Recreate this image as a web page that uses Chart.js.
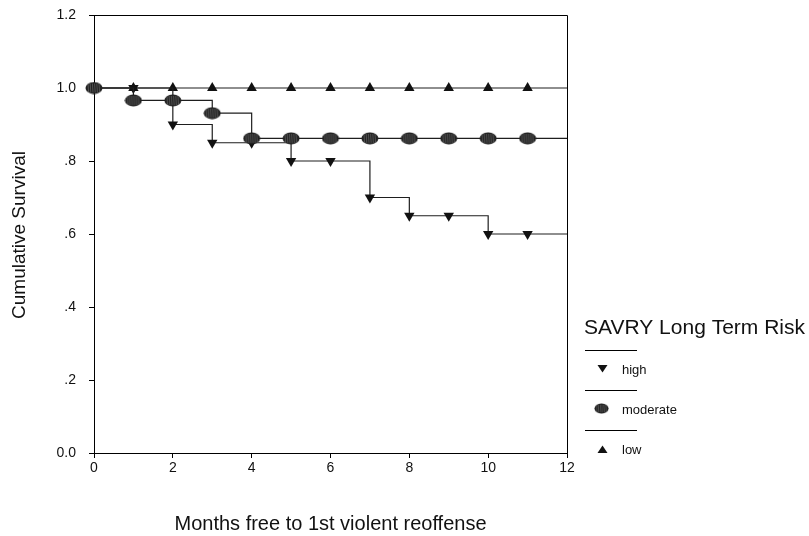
<!DOCTYPE html>
<html>
<head>
<meta charset="utf-8">
<script src="https://cdn.jsdelivr.net/npm/chart.js@4/dist/chart.umd.min.js"></script>
<style>
  html, body { margin: 0; padding: 0; background: #fff; }
  #wrap { width: 809px; height: 536px; }
</style>
</head>
<body>
<div id="wrap"><canvas id="chart" width="809" height="536"></canvas></div>
<script>
// data
const months = [0, 1, 2, 3, 4, 5, 6, 7, 8, 9, 10, 11, 12];
const highRisk = [1.0, 1.0, 0.9, 0.85, 0.85, 0.8, 0.8, 0.7, 0.65, 0.65, 0.6, 0.6, 0.6];
const moderateRisk = [1.0, 0.966, 0.966, 0.931, 0.862, 0.862, 0.862, 0.862, 0.862, 0.862, 0.862, 0.862, 0.862];
const lowRisk = [1.0, 1.0, 1.0, 1.0, 1.0, 1.0, 1.0, 1.0, 1.0, 1.0, 1.0, 1.0, 1.0];
const seriesNames = ["high", "moderate", "low"];
const yTickLabels = ["0.0", ".2", ".4", ".6", ".8", "1.0", "1.2"];
const legendTitle = "SAVRY Long Term Risk";
const xTitle = "Months free to 1st violent reoffense";
const yTitle = "Cumulative Survival";

const FONT = "'Liberation Sans', Arial, sans-serif";

// hatched oval marker for the moderate group
function makeBlob() {
  const c = document.createElement("canvas");
  c.width = 18; c.height = 13;
  const g = c.getContext("2d");
  g.beginPath();
  g.ellipse(9, 6.5, 8.5, 6, 0, 0, Math.PI * 2);
  g.fillStyle = "#222";
  g.fill();
  g.save();
  g.clip();
  g.strokeStyle = "#606060";
  g.lineWidth = 0.8;
  for (let x = 3; x < 16; x += 2.2) {
    g.beginPath();
    g.moveTo(x, 2);
    g.lineTo(x + 0.6, 11);
    g.stroke();
  }
  g.restore();
  return c;
}
const blob = makeBlob();

const pts = (arr) => months.map((m, i) => ({ x: m, y: arr[i] }));
// no censor mark at the end of follow-up
const rad = (r) => (c) => (c.raw && c.raw.x === 12 ? 0 : r);

// frame, axis titles and legend
const extrasPlugin = {
  id: "extras",
  afterDraw(chart) {
    const ctx = chart.ctx;
    const a = chart.chartArea;
    ctx.save();
    ctx.strokeStyle = "#000";
    ctx.lineWidth = 1;
    ctx.beginPath();
    ctx.moveTo(a.left, a.top + 0.5);
    ctx.lineTo(a.right + 0.5, a.top + 0.5);
    ctx.lineTo(a.right + 0.5, a.bottom);
    ctx.stroke();

    ctx.fillStyle = "#111";
    ctx.textAlign = "center";
    ctx.textBaseline = "middle";
    ctx.font = "20px " + FONT;
    ctx.fillText(xTitle, (a.left + a.right) / 2, 524);
    ctx.save();
    ctx.translate(20, 235);
    ctx.rotate(-Math.PI / 2);
    ctx.font = "19px " + FONT;
    ctx.fillText(yTitle, 0, 0);
    ctx.restore();

    // legend
    ctx.textAlign = "left";
    ctx.font = "21px " + FONT;
    ctx.fillText(legendTitle, 584, 328);
    ctx.font = "13px " + FONT;
    const rows = [350, 390, 430];
    seriesNames.forEach((name, i) => {
      const y0 = rows[i];
      ctx.beginPath();
      ctx.moveTo(585, y0 + 0.5);
      ctx.lineTo(637, y0 + 0.5);
      ctx.stroke();
      const my = y0 + 19;
      ctx.fillStyle = "#111";
      if (i === 1) {
        ctx.drawImage(blob, 602 - 8, my - 6, 15, 11);
      } else {
        ctx.beginPath();
        if (i === 0) {
          ctx.moveTo(597.5, my - 4); ctx.lineTo(607.5, my - 4); ctx.lineTo(602.5, my + 3.5);
        } else {
          ctx.moveTo(597.5, my + 4); ctx.lineTo(607.5, my + 4); ctx.lineTo(602.5, my - 3.5);
        }
        ctx.closePath();
        ctx.fill();
      }
      ctx.fillText(name, 622, my + 1);
    });
    ctx.restore();
  },
};

const line = "#1e1e1e";
new Chart(document.getElementById("chart").getContext("2d"), {
  type: "line",
  data: {
    datasets: [
      {
        label: seriesNames[1],
        data: pts(moderateRisk),
        stepped: true,
        borderColor: line,
        borderWidth: 1.2,
        pointStyle: blob,
        pointRadius: rad(8),
        order: 0,
        clip: false,
      },
      {
        label: seriesNames[0],
        data: pts(highRisk),
        stepped: true,
        borderColor: line,
        borderWidth: 1.2,
        pointStyle: "triangle",
        rotation: 180,
        pointRadius: rad(6),
        pointBackgroundColor: "#111",
        pointBorderColor: "#111",
        pointBorderWidth: 0,
        order: 1,
        clip: false,
      },
      {
        label: seriesNames[2],
        data: pts(lowRisk),
        stepped: true,
        borderColor: line,
        borderWidth: 1.2,
        pointStyle: "triangle",
        pointRadius: rad(6),
        pointBackgroundColor: "#111",
        pointBorderColor: "#111",
        pointBorderWidth: 0,
        order: 2,
        clip: false,
      },
    ],
  },
  options: {
    responsive: false,
    animation: false,
    layout: { padding: { left: 0, right: 242, top: 15, bottom: 0 } },
    plugins: {
      legend: { display: false },
      tooltip: { enabled: false },
    },
    scales: {
      x: {
        type: "linear",
        min: 0,
        max: 12,
        afterFit: (s) => { s.height = 83; s.paddingLeft = 0; s.paddingRight = 0; },
        grid: { drawOnChartArea: false, drawTicks: true, tickLength: 5, color: "#000" },
        border: { color: "#000", width: 1 },
        ticks: {
          stepSize: 2,
          padding: 2,
          color: "#111",
          font: { family: FONT, size: 14 },
        },
      },
      y: {
        min: 0,
        max: 1.2,
        afterFit: (s) => { s.width = 94; s.paddingTop = 0; s.paddingBottom = 0; },
        grid: { drawOnChartArea: false, drawTicks: true, tickLength: 5, color: "#000" },
        border: { color: "#000", width: 1 },
        ticks: {
          stepSize: 0.2,
          padding: 13,
          color: "#111",
          font: { family: FONT, size: 14 },
          callback: (v) => yTickLabels[Math.round(v / 0.2)],
        },
      },
    },
  },
  plugins: [extrasPlugin],
});
</script>
</body>
</html>
